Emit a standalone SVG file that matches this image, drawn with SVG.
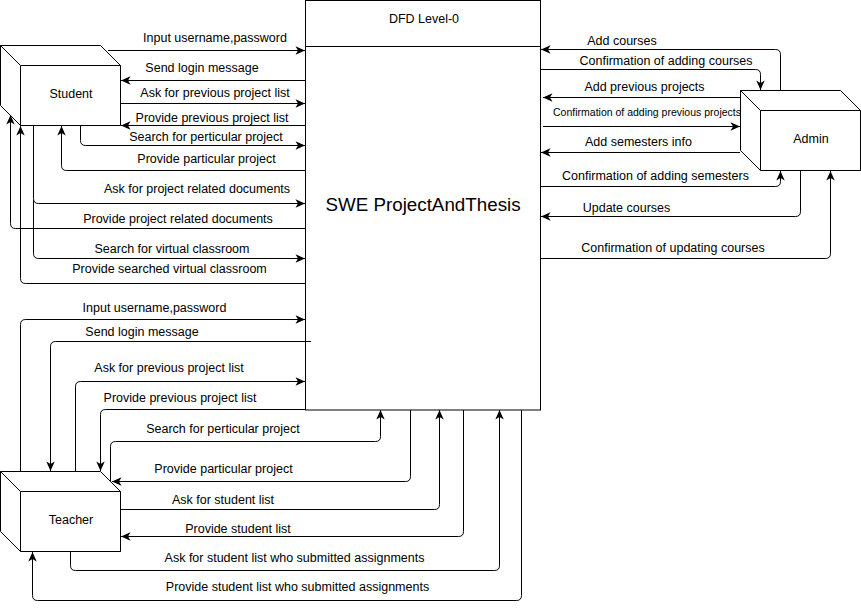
<svg xmlns="http://www.w3.org/2000/svg" width="861" height="610" viewBox="0 0 861 610">
<style>
.box{fill:#fff;stroke:#000;stroke-width:1}
.ln{fill:none;stroke:#000;stroke-width:1}
.lbl{font-family:"Liberation Sans",Arial,sans-serif;font-size:12.5px;fill:#000;text-anchor:middle}
.sm{font-size:10.5px}
.big{font-size:18.8px}
</style>
<defs>
<marker id="ar" markerUnits="userSpaceOnUse" markerWidth="12" markerHeight="12" refX="10" refY="6" orient="auto">
<path d="M0.5,1.8 L10,6 L0.5,10.2 L3,6 Z" fill="#000"/>
</marker>
<g id="cube">
<path class="box" d="M0,0 H100 L120,20 V80 H20 L0,60 Z"/>
<path class="box" d="M20,20 H120 V80 H20 Z"/>
<path class="ln" d="M0,0 L20,20"/>
</g>
</defs>
<rect width="861" height="610" fill="#fff"/>

<g id="process">
<rect class="box" x="305.5" y="0.5" width="235" height="409.5"/>
<line class="ln" x1="305.5" y1="46.5" x2="540.5" y2="46.5"/>
<text class="lbl" x="424" y="23">DFD Level-0</text>
<text class="lbl big" x="423" y="211">SWE ProjectAndThesis</text>
</g>

<g id="student">
<use href="#cube" transform="translate(0.5,45.5)"/>
<text class="lbl" x="71" y="98">Student</text>
</g>

<g id="admin">
<use href="#cube" transform="translate(740.5,90.5)"/>
<text class="lbl" x="811" y="143">Admin</text>
</g>

<g id="teacher">
<use href="#cube" transform="translate(0.5,471.5)"/>
<text class="lbl" x="71" y="524">Teacher</text>
</g>

<g id="connectors">
<!-- Student -->
<path class="ln" marker-end="url(#ar)" d="M108,50.5 H305"/>
<path class="ln" marker-end="url(#ar)" d="M305,80.5 H121"/>
<path class="ln" marker-end="url(#ar)" d="M121,103.5 H305"/>
<path class="ln" marker-end="url(#ar)" d="M305,125.5 H121"/>
<path class="ln" marker-end="url(#ar)" d="M80.5,126 V140.5 Q80.5,145.5 85.5,145.5 H305"/>
<path class="ln" marker-end="url(#ar)" d="M305,170.5 H66.5 Q61.5,170.5 61.5,165.5 V126"/>
<path class="ln" marker-end="url(#ar)" d="M33.5,126 V198.5 Q33.5,203.5 38.5,203.5 H305"/>
<path class="ln" marker-end="url(#ar)" d="M305,228.5 H15.5 Q10.5,228.5 10.5,223.5 V115"/>
<path class="ln" marker-end="url(#ar)" d="M33.5,200 V253.5 Q33.5,258.5 38.5,258.5 H305"/>
<path class="ln" marker-end="url(#ar)" d="M305,283.5 H25.5 Q20.5,283.5 20.5,278.5 V126"/>
<!-- Admin -->
<path class="ln" marker-end="url(#ar)" d="M780.5,90 V54.5 Q780.5,49.5 775.5,49.5 H541"/>
<path class="ln" marker-end="url(#ar)" d="M541,69.5 H755.5 Q760.5,69.5 760.5,74.5 V90"/>
<path class="ln" marker-end="url(#ar)" d="M740,97.5 H543"/>
<path class="ln" marker-end="url(#ar)" d="M543,126.5 H740"/>
<path class="ln" marker-end="url(#ar)" d="M740,152.5 H541"/>
<path class="ln" marker-end="url(#ar)" d="M541,186.5 H775.5 Q780.5,186.5 780.5,181.5 V171"/>
<path class="ln" marker-end="url(#ar)" d="M800.5,171 V211.5 Q800.5,216.5 795.5,216.5 H541"/>
<path class="ln" marker-end="url(#ar)" d="M541,258.5 H825.5 Q830.5,258.5 830.5,253.5 V171"/>
<!-- Teacher -->
<path class="ln" marker-end="url(#ar)" d="M20.5,471 V324.5 Q20.5,319.5 25.5,319.5 H305"/>
<path class="ln" marker-end="url(#ar)" d="M311,341.5 H55.5 Q50.5,341.5 50.5,346.5 V471"/>
<path class="ln" marker-end="url(#ar)" d="M75.5,471 V386.5 Q75.5,381.5 80.5,381.5 H305"/>
<path class="ln" marker-end="url(#ar)" d="M305,409.5 H105.5 Q100.5,409.5 100.5,414.5 V471"/>
<path class="ln" marker-end="url(#ar)" d="M110.5,481 V446.5 Q110.5,441.5 115.5,441.5 H375.5 Q380.5,441.5 380.5,436.5 V410"/>
<path class="ln" marker-end="url(#ar)" d="M410.5,410 V476.5 Q410.5,481.5 405.5,481.5 H112"/>
<path class="ln" marker-end="url(#ar)" d="M121,509.5 H434.5 Q439.5,509.5 439.5,504.5 V410"/>
<path class="ln" marker-end="url(#ar)" d="M463.5,410 V531.5 Q463.5,536.5 458.5,536.5 H121"/>
<path class="ln" marker-end="url(#ar)" d="M70.5,552 V565.5 Q70.5,570.5 75.5,570.5 H494.5 Q499.5,570.5 499.5,565.5 V410"/>
<path class="ln" marker-end="url(#ar)" d="M521.5,410 V595.5 Q521.5,600.5 516.5,600.5 H37.5 Q32.5,600.5 32.5,595.5 V552"/>
</g>

<g id="labels">
<text class="lbl" x="215" y="42">Input username,password</text>
<text class="lbl" x="202" y="72">Send login message</text>
<text class="lbl" x="215" y="97">Ask for previous project list</text>
<text class="lbl" x="212" y="122">Provide previous project list</text>
<text class="lbl" x="206" y="141">Search for perticular project</text>
<text class="lbl" x="206.5" y="163">Provide particular project</text>
<text class="lbl" x="197" y="193">Ask for project related documents</text>
<text class="lbl" x="178" y="223">Provide project related documents</text>
<text class="lbl" x="172" y="253">Search for virtual classroom</text>
<text class="lbl" x="169.5" y="273">Provide searched virtual classroom</text>

<text class="lbl" x="622" y="45">Add courses</text>
<text class="lbl" x="666" y="65">Confirmation of adding courses</text>
<text class="lbl" x="644.5" y="91">Add previous projects</text>
<text class="lbl sm" x="647" y="116">Confirmation of adding previous projects</text>
<text class="lbl" x="638.5" y="146">Add semesters info</text>
<text class="lbl" x="655.5" y="180">Confirmation of adding semesters</text>
<text class="lbl" x="626.5" y="212">Update courses</text>
<text class="lbl" x="673" y="252">Confirmation of updating courses</text>

<text class="lbl" x="154.5" y="312">Input username,password</text>
<text class="lbl" x="142" y="336">Send login message</text>
<text class="lbl" x="169" y="372">Ask for previous project list</text>
<text class="lbl" x="180" y="402">Provide previous project list</text>
<text class="lbl" x="223" y="433">Search for perticular project</text>
<text class="lbl" x="223.5" y="473">Provide particular project</text>
<text class="lbl" x="223" y="504">Ask for student list</text>
<text class="lbl" x="238" y="533">Provide student list</text>
<text class="lbl" x="294.5" y="562">Ask for student list who submitted assignments</text>
<text class="lbl" x="297.5" y="591">Provide student list who submitted assignments</text>
</g>
</svg>
